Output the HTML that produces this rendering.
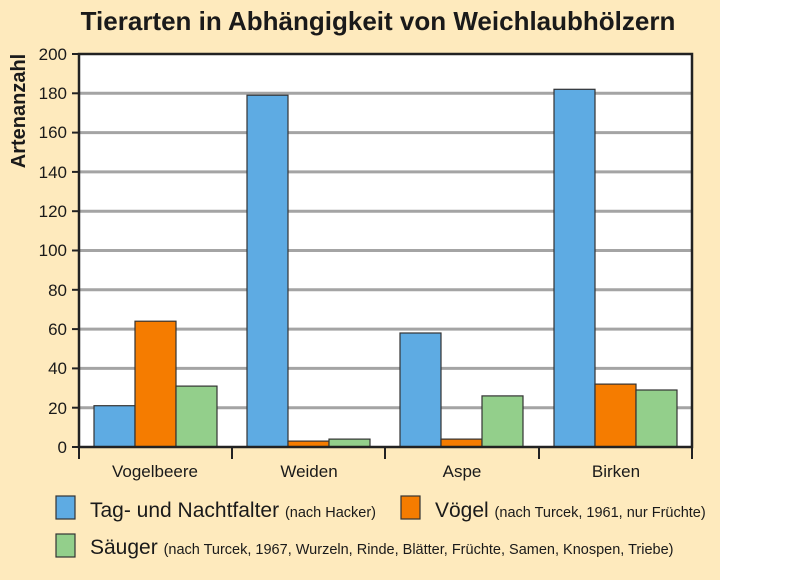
<!DOCTYPE html>
<html><head><meta charset="utf-8"><style>
body{margin:0;width:800px;height:581px;background:#fff;overflow:hidden}
svg{display:block}
text{font-family:"Liberation Sans",sans-serif;fill:#1a1a1a}
</style></head><body>
<svg width="800" height="581" viewBox="0 0 800 581">
<rect x="0" y="0" width="720" height="580" fill="#feeabd"/>
<text x="378" y="30" text-anchor="middle" font-size="26" font-weight="bold">Tierarten in Abhängigkeit von Weichlaubhölzern</text>
<text transform="translate(25 111) rotate(-90)" text-anchor="middle" font-size="20" font-weight="bold">Artenanzahl</text>
<rect x="79" y="54" width="613" height="393" fill="#fff"/>
<g stroke="#a4a4a4" stroke-width="3">
<line x1="79" x2="692" y1="93.3" y2="93.3"/><line x1="79" x2="692" y1="132.6" y2="132.6"/>
<line x1="79" x2="692" y1="171.9" y2="171.9"/><line x1="79" x2="692" y1="211.2" y2="211.2"/>
<line x1="79" x2="692" y1="250.5" y2="250.5"/><line x1="79" x2="692" y1="289.8" y2="289.8"/>
<line x1="79" x2="692" y1="329.1" y2="329.1"/><line x1="79" x2="692" y1="368.4" y2="368.4"/>
<line x1="79" x2="692" y1="407.7" y2="407.7"/>
</g>
<g stroke="#333" stroke-width="1.2">
<rect x="94" y="405.7" width="41" height="41.3" fill="#5eabe3"/>
<rect x="135" y="321.2" width="41" height="125.8" fill="#f57c00"/>
<rect x="176" y="386.1" width="41" height="60.9" fill="#93cf8b"/>
<rect x="247" y="95.2" width="41" height="351.8" fill="#5eabe3"/>
<rect x="288" y="441.1" width="41" height="5.9" fill="#f57c00"/>
<rect x="329" y="439.1" width="41" height="7.9" fill="#93cf8b"/>
<rect x="400" y="333" width="41" height="114" fill="#5eabe3"/>
<rect x="441" y="439.1" width="41" height="7.9" fill="#f57c00"/>
<rect x="482" y="395.9" width="41" height="51.1" fill="#93cf8b"/>
<rect x="554" y="89.3" width="41" height="357.7" fill="#5eabe3"/>
<rect x="595" y="384.1" width="41" height="62.9" fill="#f57c00"/>
<rect x="636" y="390" width="41" height="57" fill="#93cf8b"/>
</g>
<g stroke="#222" stroke-width="2.5" fill="none">
<rect x="79" y="54" width="613" height="393"/>
</g>
<g stroke="#222" stroke-width="2">
<line x1="72" x2="79" y1="54" y2="54"/><line x1="72" x2="79" y1="93.3" y2="93.3"/><line x1="72" x2="79" y1="132.6" y2="132.6"/><line x1="72" x2="79" y1="171.9" y2="171.9"/><line x1="72" x2="79" y1="211.2" y2="211.2"/><line x1="72" x2="79" y1="250.5" y2="250.5"/><line x1="72" x2="79" y1="289.8" y2="289.8"/><line x1="72" x2="79" y1="329.1" y2="329.1"/><line x1="72" x2="79" y1="368.4" y2="368.4"/><line x1="72" x2="79" y1="407.7" y2="407.7"/><line x1="72" x2="79" y1="447" y2="447"/>
<line x1="79" x2="79" y1="447" y2="459"/><line x1="232" x2="232" y1="447" y2="459"/><line x1="385" x2="385" y1="447" y2="459"/><line x1="539" x2="539" y1="447" y2="459"/><line x1="692" x2="692" y1="447" y2="459"/>
</g>
<g font-size="17" text-anchor="end">
<text x="67" y="60">200</text><text x="67" y="99">180</text><text x="67" y="138">160</text><text x="67" y="178">140</text><text x="67" y="217">120</text><text x="67" y="256">100</text><text x="67" y="296">80</text><text x="67" y="335">60</text><text x="67" y="374">40</text><text x="67" y="414">20</text><text x="67" y="453">0</text>
</g>
<g font-size="17" text-anchor="middle">
<text x="155" y="477">Vogelbeere</text><text x="309" y="477">Weiden</text><text x="462" y="477">Aspe</text><text x="616" y="477">Birken</text>
</g>
<g stroke="#333" stroke-width="1.2">
<rect x="56" y="496" width="19" height="23" fill="#5eabe3"/>
<rect x="401" y="496" width="19" height="23" fill="#f57c00"/>
<rect x="56" y="534" width="19" height="23" fill="#93cf8b"/>
</g>
<text x="90" y="517" font-size="21">Tag- und Nachtfalter <tspan font-size="14.5">(nach Hacker)</tspan></text>
<text x="435" y="517" font-size="21">Vögel <tspan font-size="14.5">(nach Turcek, 1961, nur Früchte)</tspan></text>
<text x="90" y="554" font-size="21">Säuger <tspan font-size="14.5">(nach Turcek, 1967, Wurzeln, Rinde, Blätter, Früchte, Samen, Knospen, Triebe)</tspan></text>
</svg>
</body></html>
